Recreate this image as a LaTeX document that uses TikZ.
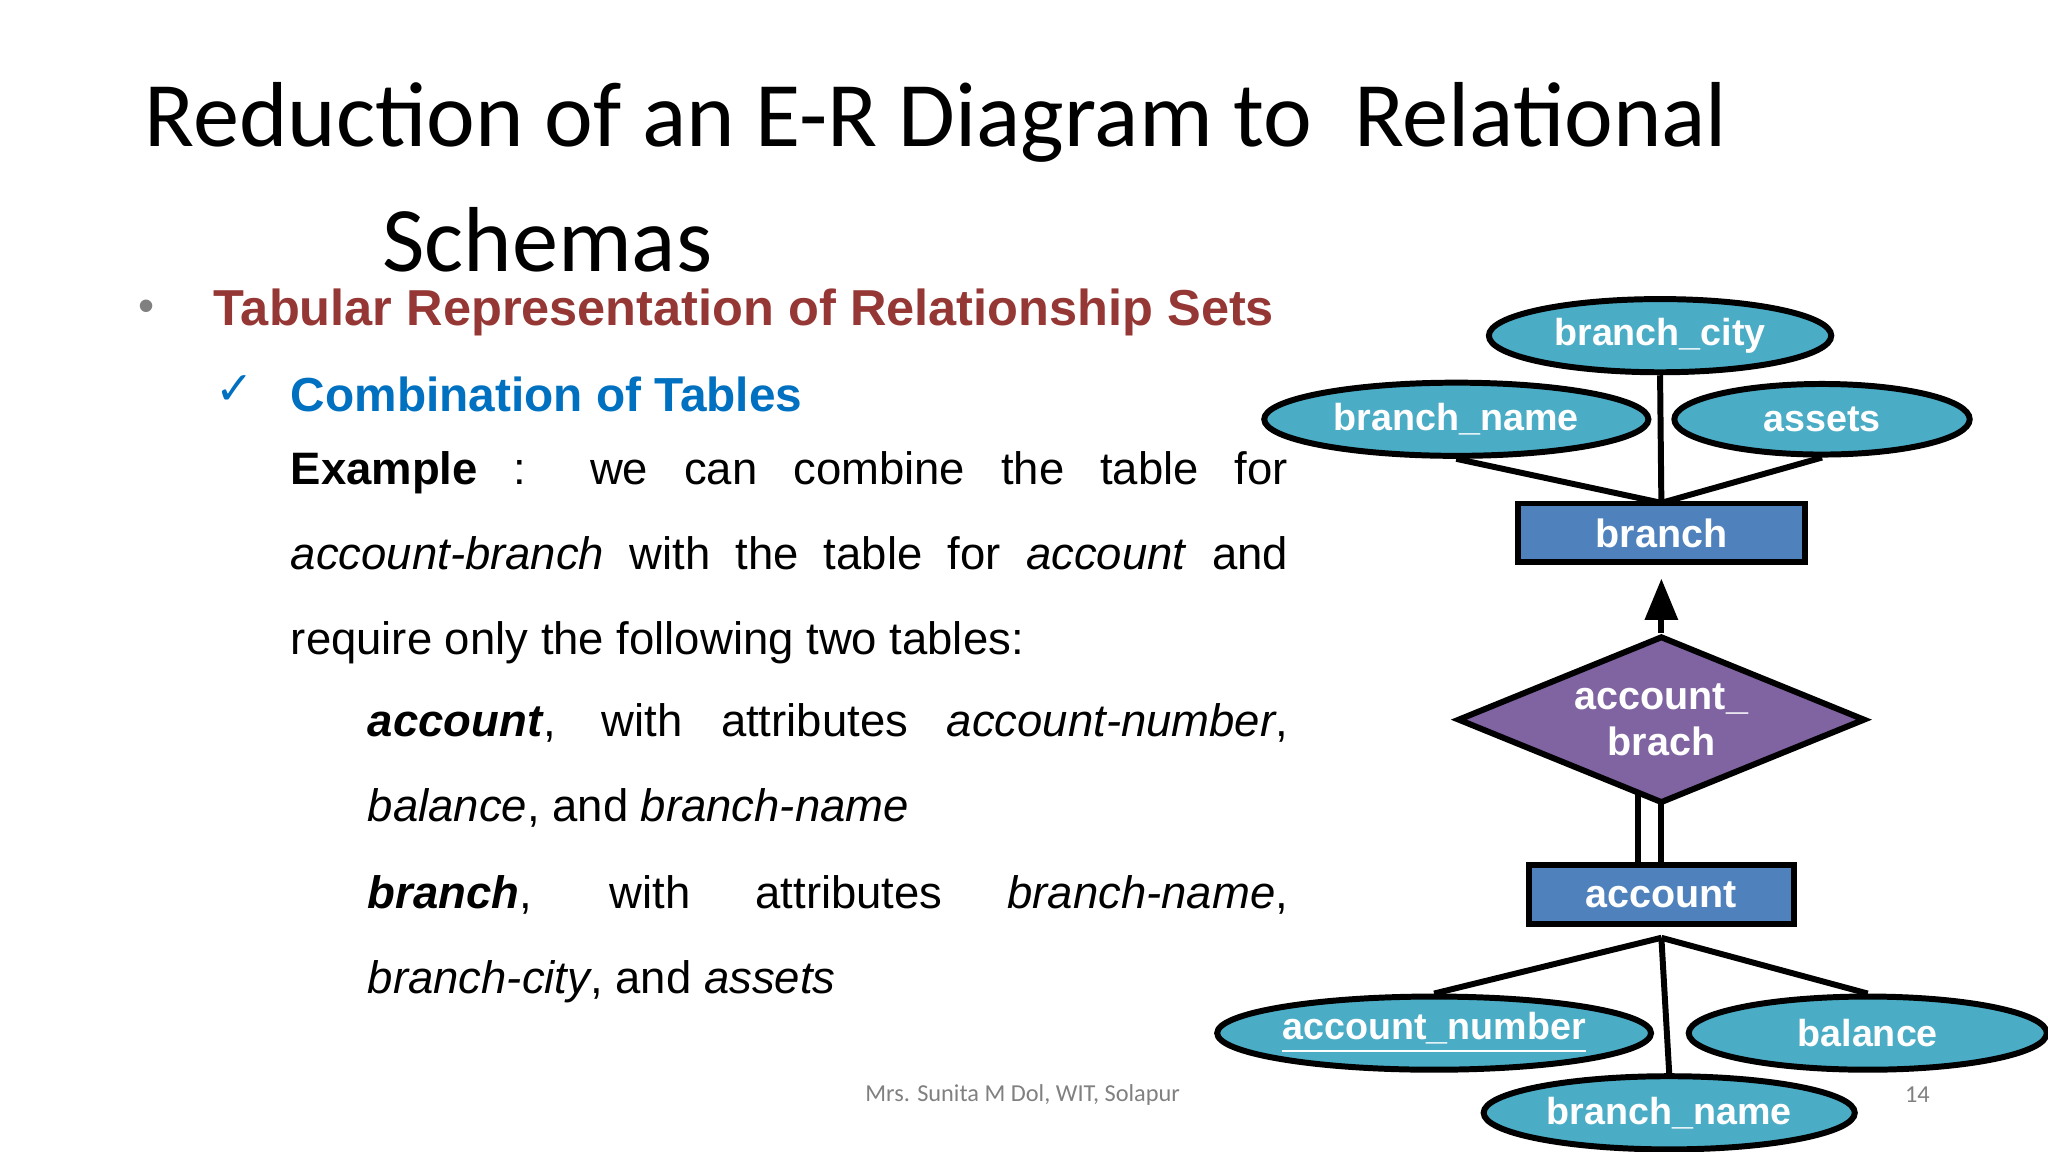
\documentclass[tikz,border=0pt]{standalone}
\usepackage{fontspec}
\setmainfont{Liberation Sans}
\newfontfamily\titlefont{Carlito}
\newfontfamily\djv{DejaVu Sans}
\usetikzlibrary{shapes.geometric,arrows.meta}
\definecolor{attr}{HTML}{4BACC6}
\definecolor{ent}{HTML}{4F81BD}
\definecolor{rel}{HTML}{8064A2}
\definecolor{maroon}{HTML}{953735}
\definecolor{blu}{HTML}{0070C0}
\begin{document}
\begin{tikzpicture}[x=0.01cm,y=-0.01cm,
  attrib/.style={ellipse,draw=black,line width=1.3pt,fill=attr,text=white,font=\bfseries\fontsize{8.2}{9}\selectfont,inner sep=0pt},
  entity/.style={rectangle,draw=black,line width=1.3pt,fill=ent,text=white,font=\bfseries\fontsize{8.6}{9}\selectfont,inner sep=0pt},
  conn/.style={line width=1.3pt},
  body/.style={anchor=north west,align=justify,inner sep=0pt,font=\fontsize{9.9}{18.5}\selectfont}]
\useasboundingbox (0,0) rectangle (1568,882);
\fill[white] (0,0) rectangle (1568,882);
% title
\node[anchor=base west,inner sep=0pt,font=\titlefont\fontsize{20.1}{24}\selectfont] (t1) at (110,112) {Reduction of an E-R Diagram to\ \ Relational};
\node[anchor=base west,inner sep=0pt,font=\titlefont\fontsize{20.1}{24}\selectfont] (t2) at (292,208) {Schemas};
\node[anchor=base west,inner sep=0pt,text=gray,font=\fontsize{10}{12}\selectfont] (b1) at (105,246) {•};
\node[anchor=base west,inner sep=0pt,text=maroon,font=\bfseries\fontsize{11}{13}\selectfont] (h1) at (163,249) {Tabular Representation of Relationship Sets};
\node[anchor=base west,inner sep=0pt,text=blu,font=\djv\fontsize{10}{12}\selectfont] (ck) at (164,310) {✓};
\node[anchor=base west,inner sep=0pt,text=blu,font=\bfseries\fontsize{10.4}{12}\selectfont] (h2) at (222,315) {Combination of Tables};
\node[body,text width=7.63cm] (p1) at (222,345) {\textbf{Example} : we can combine the table for\linebreak \textit{account-branch} with the table for \textit{account} and\linebreak require only the following two tables:};
\node[body,text width=7.04cm] (p2) at (281,538) {\textbf{\textit{account}}, with attributes \textit{account-number},\linebreak \textit{balance}, and \textit{branch-name}};
\node[body,text width=7.04cm] (p3) at (281,670) {\textbf{\textit{branch}}, with attributes \textit{branch-name},\linebreak \textit{branch-city}, and \textit{assets}};
\node[text=gray,font=\titlefont\fontsize{5.3}{6}\selectfont] (ft) at (783,838) {Mrs. Sunita M Dol, WIT, Solapur};
\node[text=gray,font=\titlefont\fontsize{5.3}{6}\selectfont] (pg) at (1468,838) {14};
% diagram
\node[entity,minimum width=2.2cm,minimum height=0.45cm] (br) at (1272,408) {branch};
\node[entity,minimum width=2.03cm,minimum height=0.45cm] (ac) at (1272,685) {account};
\node[attrib,minimum width=2.62cm,minimum height=0.56cm] (bc) at (1271,257) {branch\_city};
\node[attrib,minimum width=2.94cm,minimum height=0.56cm] (bn) at (1115,321) {branch\_name};
\node[attrib,minimum width=2.26cm,minimum height=0.54cm] (as) at (1395,321) {assets};
\node[attrib,minimum width=3.32cm,minimum height=0.56cm] (an) at (1098,791) {\underline{account\_number}};
\node[attrib,minimum width=2.74cm,minimum height=0.56cm] (ba) at (1430,791) {balance};
\node[attrib,minimum width=2.84cm,minimum height=0.56cm] (bn2) at (1278,852) {branch\_name};
\node[diamond,draw=black,line width=1.3pt,fill=rel,text=white,font=\bfseries\fontsize{8.6}{10}\selectfont,align=center,minimum width=3.12cm,minimum height=1.28cm,aspect=2.4,inner sep=0pt] (ab) at (1272,551) {account\_\\brach};
\coordinate (btop) at (1272,385);
\draw[conn] (btop) -- (bc.south);
\draw[conn] (btop) -- (bn.south);
\draw[conn] (btop) -- (as.south);
\draw[conn,-{Triangle[length=9pt,width=7pt]}] (ab.north) -- (1272,443);
\draw[conn] (1254,606) -- (1254,662);
\draw[conn] (1272,615) -- (1272,662);
\coordinate (atop) at (1272,718);
\draw[conn] (atop) -- (an.north);
\draw[conn] (atop) -- (ba.north);
\draw[conn] (atop) -- (bn2.north);
\end{tikzpicture}
\end{document}
